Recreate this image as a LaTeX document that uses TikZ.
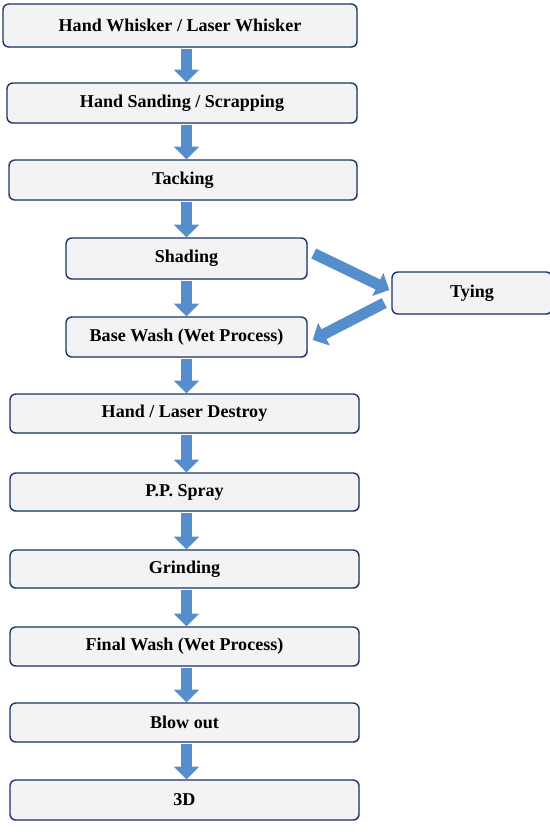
\documentclass[tikz,border=0pt]{standalone}
\usepackage{fontspec}
\setmainfont{Liberation Serif}
\usetikzlibrary{positioning,arrows.meta,calc,shadows}
\definecolor{boxline}{RGB}{28,52,102}
\definecolor{boxfill}{RGB}{243,243,245}
\definecolor{arrowblue}{RGB}{86,142,205}
\tikzset{
  stage/.style={draw=boxline, line width=1.2pt, fill=boxfill, rounded corners=5pt,
    drop shadow={opacity=0.2, shadow xshift=0.8pt, shadow yshift=-0.8pt},
    font=\fontsize{15.4}{17}\selectfont\bfseries, minimum height=1.2cm, inner sep=0pt},
  widestage/.style={stage, minimum width=10.47cm},
  midstage/.style={stage, minimum width=7.23cm},
  flow/.style={arrowblue, line width=0.33cm, -{Triangle[width=0.74cm,length=0.38cm]}}
}

\begin{document}
\begin{tikzpicture}[x=0.03cm,y=-0.03cm]
\useasboundingbox (0,0) rectangle (549,836);

% main line of stages
\node[stage, minimum width=10.62cm, minimum height=1.29cm] (whisker) at (180,25.5) {Hand Whisker / Laser Whisker};
\node[stage, minimum width=10.5cm] (sanding) at (182,103) {Hand Sanding / Scrapping};
\node[stage, minimum width=10.44cm] (tacking) at (183,180) {Tacking};
\node[midstage, minimum height=1.23cm] (shading) at (186.5,258.5) {Shading};
\node[midstage] (basewash) at (186.5,337) {Base Wash (Wet Process)};
\node[stage, minimum width=4.8cm, minimum height=1.26cm] (tying) at (472,293) {Tying};
\node[widestage, minimum height=1.17cm] (destroy) at (184.5,413.5) {Hand / Laser Destroy};
\node[widestage, minimum height=1.14cm] (spray) at (184.5,492) {P.P. Spray};
\node[widestage, minimum height=1.14cm] (grinding) at (184.5,569) {Grinding};
\node[widestage, minimum height=1.17cm] (finalwash) at (184.5,646.5) {Final Wash (Wet Process)};
\node[widestage, minimum height=1.17cm] (blowout) at (184.5,722.5) {Blow out};
\node[widestage] (threed) at (184.5,800) {3D};

% arrows down the middle
\foreach \a/\b in {whisker/sanding, sanding/tacking, tacking/shading, shading/basewash,
  basewash/destroy, destroy/spray, spray/grinding, grinding/finalwash,
  finalwash/blowout, blowout/threed}
  \draw[flow] ($(\a.south -| shading.center)+(0,1)$) -- (\b.north -| shading.center);

% side loop through tying
\draw[flow] ($(shading.east)+(6,-5)$) -- ($(tying.west)+(-2,-3)$);
\draw[flow] ($(tying.west)+(-7,10)$) -- ($(basewash.east)+(5,3)$);
\end{tikzpicture}
\end{document}
